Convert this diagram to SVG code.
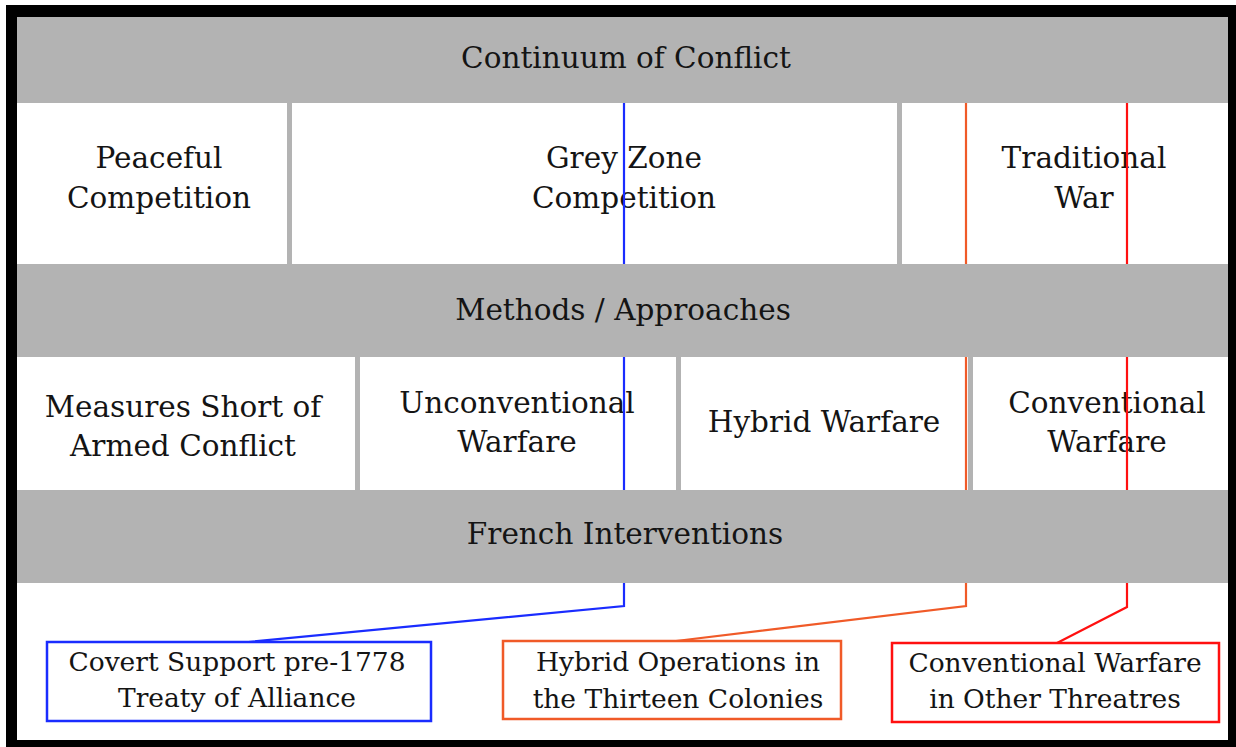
<svg xmlns="http://www.w3.org/2000/svg" width="1236" height="747" viewBox="0 0 1236 747">
<style>
.t{font-family:"DejaVu Serif","Liberation Serif",serif;font-size:29.5px;fill:#141414;text-anchor:middle}
.b{font-family:"DejaVu Serif","Liberation Serif",serif;font-size:26.5px;fill:#141414;text-anchor:middle}
.cell{fill:#ffffff}
.hdr{fill:#b3b3b3}
.ln{fill:none;stroke-width:2.2;stroke-linejoin:miter}
</style>
<rect x="6" y="5" width="1240" height="750" fill="#000"/>
<rect x="17" y="17" width="1211" height="723" fill="#b3b3b3"/>
<g id="cell-peaceful"><rect class="cell" x="17" y="103" width="270" height="161"/><text class="t" x="159" y="168">Peaceful</text><text class="t" x="159" y="208">Competition</text></g>
<g id="cell-greyzone"><rect class="cell" x="292" y="103" width="605" height="161"/><text class="t" x="624" y="168">Grey Zone</text><text class="t" x="624" y="208">Competition</text></g>
<g id="cell-traditional"><rect class="cell" x="902" y="103" width="326" height="161"/><text class="t" x="1084" y="168">Traditional</text><text class="t" x="1084" y="208">War</text></g>
<g id="cell-measures"><rect class="cell" x="17" y="357" width="338" height="133"/><text class="t" x="183" y="417">Measures Short of</text><text class="t" x="183" y="456">Armed Conflict</text></g>
<g id="cell-unconventional"><rect class="cell" x="360" y="357" width="316" height="133"/><text class="t" x="517" y="413">Unconventional</text><text class="t" x="517" y="452">Warfare</text></g>
<g id="cell-hybrid"><rect class="cell" x="681" y="357" width="287" height="133"/><text class="t" x="824" y="432">Hybrid Warfare</text></g>
<g id="cell-conventional"><rect class="cell" x="973" y="357" width="255" height="133"/><text class="t" x="1107" y="413">Conventional</text><text class="t" x="1107" y="452">Warfare</text></g>
<rect class="cell" x="17" y="583" width="1211" height="157"/>
<g id="connectors">
<polyline class="ln" stroke="#1a2cff" points="624,103 624,606 238,643"/>
<polyline class="ln" stroke="#f05a28" points="966,103 966,606 676,641"/>
<polyline class="ln" stroke="#ff1010" points="1127,103 1127,607 1057,643"/>
</g>
<g id="hdr-continuum"><rect class="hdr" x="17" y="17" width="1211" height="85"/><text class="t" x="626" y="68">Continuum of Conflict</text></g>
<g id="hdr-methods"><rect class="hdr" x="17" y="264" width="1211" height="93"/><text class="t" x="623" y="320">Methods / Approaches</text></g>
<g id="hdr-french"><rect class="hdr" x="17" y="490" width="1211" height="93"/><text class="t" x="625" y="544">French Interventions</text></g>
<g id="box-covert"><rect x="47" y="642" width="384" height="79" fill="#fff" stroke="#1a2cff" stroke-width="2.5"/><text class="b" x="237" y="671">Covert Support pre-1778</text><text class="b" x="237" y="707">Treaty of Alliance</text></g>
<g id="box-hybrid"><rect x="503" y="641" width="338" height="78" fill="#fff" stroke="#f05a28" stroke-width="2.5"/><text class="b" x="678" y="671">Hybrid Operations in</text><text class="b" x="678" y="708">the Thirteen Colonies</text></g>
<g id="box-conventional"><rect x="892" y="643" width="327" height="79" fill="#fff" stroke="#ff1010" stroke-width="2.5"/><text class="b" x="1055" y="672">Conventional Warfare</text><text class="b" x="1055" y="708">in Other Threatres</text></g>
</svg>
